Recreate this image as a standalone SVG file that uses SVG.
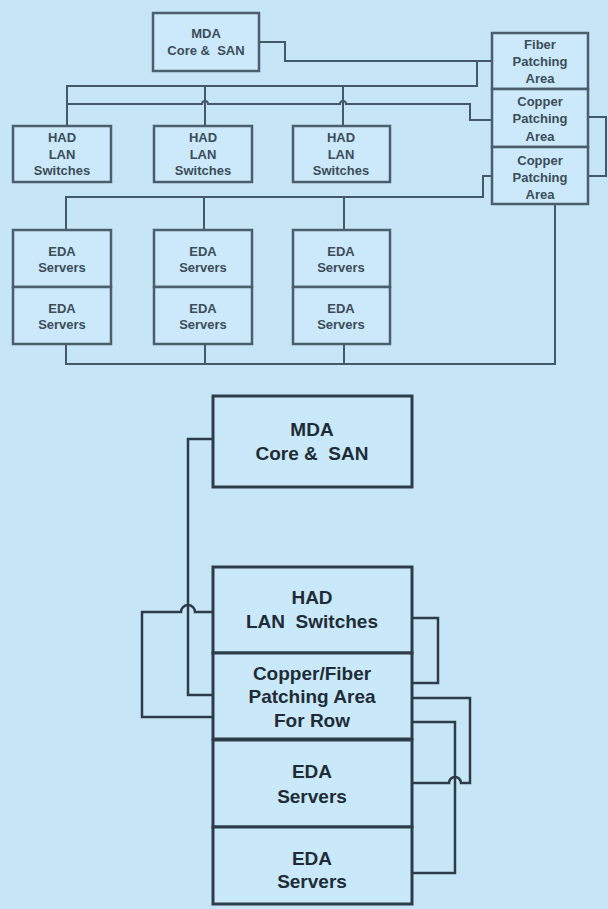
<svg xmlns="http://www.w3.org/2000/svg" width="608" height="909" viewBox="0 0 608 909">
<style>
.bg{fill:#c6e6f8}
.b1{fill:#cbe9fa;stroke:#4b5e6b;stroke-width:2.5}
.b2{fill:#c9e8f9;stroke:#2c3c48;stroke-width:3}
.c1{fill:none;stroke:#44586a;stroke-width:2}
.c2{fill:none;stroke:#2c3c48;stroke-width:2.5}
.t1{font-family:"Liberation Sans",Arial,sans-serif;font-size:13px;font-weight:bold;fill:#3c4c58;text-anchor:middle}
.t2{font-family:"Liberation Sans",Arial,sans-serif;font-size:19px;font-weight:bold;fill:#1e2c37;text-anchor:middle}
</style>
<rect class="bg" x="0" y="0" width="608" height="909"/>

<g id="connectors">
  <!-- top section -->
  <path class="c1" d="M259,42 H285 V61 H492"/>
  <path class="c1" d="M477,61 V86 H67 V126"/>
  <path class="c1" d="M205,86 V126"/>
  <path class="c1" d="M343,86 V126"/>
  <path class="c1" d="M67,104 H202 A3,3 0 0 1 208,104 H340 A3,3 0 0 1 346,104 H470 V120 H492"/>
  <path class="c1" d="M588,117 H606 V176 H588"/>
  <path class="c1" d="M492,176 H483 V197 H66 V230"/>
  <path class="c1" d="M204,197 V230"/>
  <path class="c1" d="M344,197 V230"/>
  <path class="c1" d="M66,344 V364 H555 V204"/>
  <path class="c1" d="M205,344 V364"/>
  <path class="c1" d="M344,344 V364"/>
  <!-- bottom section -->
  <path class="c2" d="M213,439 H188 V695 H213"/>
  <path class="c2" d="M213,612 H195 A6,6 0 0 0 181,612 H142 V717 H213"/>
  <path class="c2" d="M412,618 H438 V683 H412"/>
  <path class="c2" d="M412,783 H449 A6,6 0 0 1 461,783 H470 V698 H412"/>
  <path class="c2" d="M412,722 H455 V873 H412"/>
</g>

<g id="mda-top">
  <rect class="b1" x="153" y="13" width="106" height="58"/>
  <text class="t1" x="206" y="38">MDA</text>
  <text class="t1" x="206" y="55" xml:space="preserve">Core &amp;  SAN</text>
</g>
<g id="had1">
  <rect class="b1" x="13" y="126" width="98" height="56"/>
  <text class="t1" x="62" y="142">HAD</text>
  <text class="t1" x="62" y="159">LAN</text>
  <text class="t1" x="62" y="175">Switches</text>
</g>
<g id="had2">
  <rect class="b1" x="154" y="126" width="98" height="56"/>
  <text class="t1" x="203" y="142">HAD</text>
  <text class="t1" x="203" y="159">LAN</text>
  <text class="t1" x="203" y="175">Switches</text>
</g>
<g id="had3">
  <rect class="b1" x="293" y="126" width="97" height="56"/>
  <text class="t1" x="341" y="142">HAD</text>
  <text class="t1" x="341" y="159">LAN</text>
  <text class="t1" x="341" y="175">Switches</text>
</g>
<g id="fiber">
  <rect class="b1" x="492" y="33" width="96" height="56"/>
  <text class="t1" x="540" y="49">Fiber</text>
  <text class="t1" x="540" y="66">Patching</text>
  <text class="t1" x="540" y="83">Area</text>
</g>
<g id="copper1">
  <rect class="b1" x="492" y="89" width="96" height="58"/>
  <text class="t1" x="540" y="106">Copper</text>
  <text class="t1" x="540" y="123">Patching</text>
  <text class="t1" x="540" y="141">Area</text>
</g>
<g id="copper2">
  <rect class="b1" x="492" y="147" width="96" height="57"/>
  <text class="t1" x="540" y="165">Copper</text>
  <text class="t1" x="540" y="182">Patching</text>
  <text class="t1" x="540" y="199">Area</text>
</g>
<g id="eda1a">
  <rect class="b1" x="13" y="230" width="98" height="57"/>
  <text class="t1" x="62" y="256">EDA</text>
  <text class="t1" x="62" y="272">Servers</text>
</g>
<g id="eda1b">
  <rect class="b1" x="13" y="287" width="98" height="57"/>
  <text class="t1" x="62" y="313">EDA</text>
  <text class="t1" x="62" y="329">Servers</text>
</g>
<g id="eda2a">
  <rect class="b1" x="154" y="230" width="98" height="57"/>
  <text class="t1" x="203" y="256">EDA</text>
  <text class="t1" x="203" y="272">Servers</text>
</g>
<g id="eda2b">
  <rect class="b1" x="154" y="287" width="98" height="57"/>
  <text class="t1" x="203" y="313">EDA</text>
  <text class="t1" x="203" y="329">Servers</text>
</g>
<g id="eda3a">
  <rect class="b1" x="293" y="230" width="97" height="57"/>
  <text class="t1" x="341" y="256">EDA</text>
  <text class="t1" x="341" y="272">Servers</text>
</g>
<g id="eda3b">
  <rect class="b1" x="293" y="287" width="97" height="57"/>
  <text class="t1" x="341" y="313">EDA</text>
  <text class="t1" x="341" y="329">Servers</text>
</g>

<g id="mda-bottom">
  <rect class="b2" x="213" y="396" width="199" height="91"/>
  <text class="t2" x="312" y="436">MDA</text>
  <text class="t2" x="312" y="460" xml:space="preserve">Core &amp;  SAN</text>
</g>
<g id="had-bottom">
  <rect class="b2" x="213" y="567" width="199" height="86"/>
  <text class="t2" x="312" y="604">HAD</text>
  <text class="t2" x="312" y="628" xml:space="preserve">LAN  Switches</text>
</g>
<g id="patch-bottom">
  <rect class="b2" x="213" y="653" width="199" height="86"/>
  <text class="t2" x="312" y="680">Copper/Fiber</text>
  <text class="t2" x="312" y="703">Patching Area</text>
  <text class="t2" x="312" y="727">For Row</text>
</g>
<g id="eda-bottom1">
  <rect class="b2" x="213" y="740" width="199" height="87"/>
  <text class="t2" x="312" y="778">EDA</text>
  <text class="t2" x="312" y="803">Servers</text>
</g>
<g id="eda-bottom2">
  <rect class="b2" x="213" y="827" width="199" height="77"/>
  <text class="t2" x="312" y="865">EDA</text>
  <text class="t2" x="312" y="888">Servers</text>
</g>
</svg>
